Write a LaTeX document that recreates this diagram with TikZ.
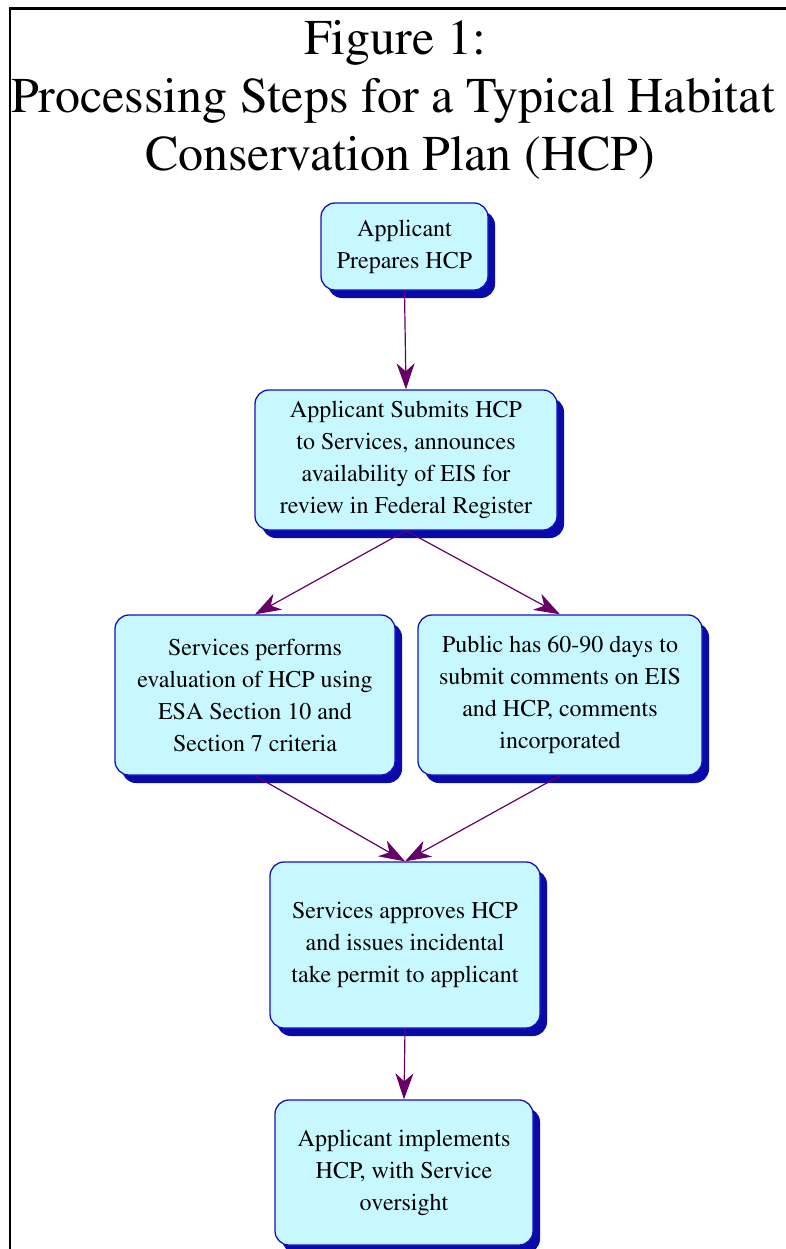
\documentclass[tikz,border=0pt]{standalone}
\usepackage[T1]{fontenc}
\usepackage{mathptmx}
\usepackage{tikz}
\usetikzlibrary{shadows,arrows.meta}
\definecolor{stepfill}{RGB}{200,248,255}
\definecolor{stepedge}{RGB}{20,20,190}
\definecolor{stepshade}{RGB}{10,10,170}
\definecolor{flowpurple}{RGB}{102,0,102}

\begin{document}
\begin{tikzpicture}[x=1pt,y=-1pt,
  stepbox/.style={draw=stepedge,line width=1.3pt,fill=stepfill,rounded corners=14pt,
    align=center,inner sep=0pt,font=\fontsize{24}{32}\selectfont,
    drop shadow={shadow xshift=7pt,shadow yshift=-8pt,fill=stepshade,opacity=1}},
  flow/.style={draw=flowpurple,line width=1.2pt,-{Stealth[length=26pt,width=18pt,inset=8pt]}},
  titleline/.style={anchor=base,inner sep=0pt,font=\fontsize{50}{58}\selectfont}]
\useasboundingbox (0,0) rectangle (786,1249);
% frame
\draw[line width=2.8pt] (10,1249) -- (10,8.5) -- (786,8.5);
% title
\node[titleline] (title1) at (395,55) {Figure 1:};
\node[titleline] (title2) at (393,113) {Processing Steps for a Typical Habitat};
\node[titleline] (title3) at (400,171) {Conservation Plan (HCP)};
% steps
\node[stepbox,minimum width=167pt,minimum height=87pt] (prepare) at (404.5,246.5)
  {Applicant\\Prepares HCP};
\node[stepbox,minimum width=302pt,minimum height=140pt] (submit) at (406,460)
  {Applicant Submits HCP\\to Services, announces\\availability of EIS for\\review in Federal Register};
\node[stepbox,minimum width=280pt,minimum height=160pt] (evaluate) at (255,695)
  {Services performs\\evaluation of HCP using\\ESA Section 10 and\\Section 7 criteria};
\node[stepbox,minimum width=284pt,minimum height=160pt] (comment) at (560,695)
  {Public has 60-90 days to\\submit comments on EIS\\and HCP, comments\\incorporated};
\node[stepbox,minimum width=270pt,minimum height=166pt] (approve) at (405,945)
  {Services approves HCP\\and issues incidental\\take permit to applicant};
\node[stepbox,minimum width=258pt,minimum height=145pt] (implement) at (404,1172.5)
  {Applicant implements\\HCP, with Service\\oversight};
% arrows
\draw[flow] (prepare.south) -- (submit.north);
\draw[flow] (submit.south) -- (evaluate.north);
\draw[flow] (submit.south) -- (comment.north);
\draw[flow] (evaluate.south) -- (approve.north);
\draw[flow] (comment.south) -- (approve.north);
\draw[flow] (approve.south) -- (implement.north);
\end{tikzpicture}
\end{document}
